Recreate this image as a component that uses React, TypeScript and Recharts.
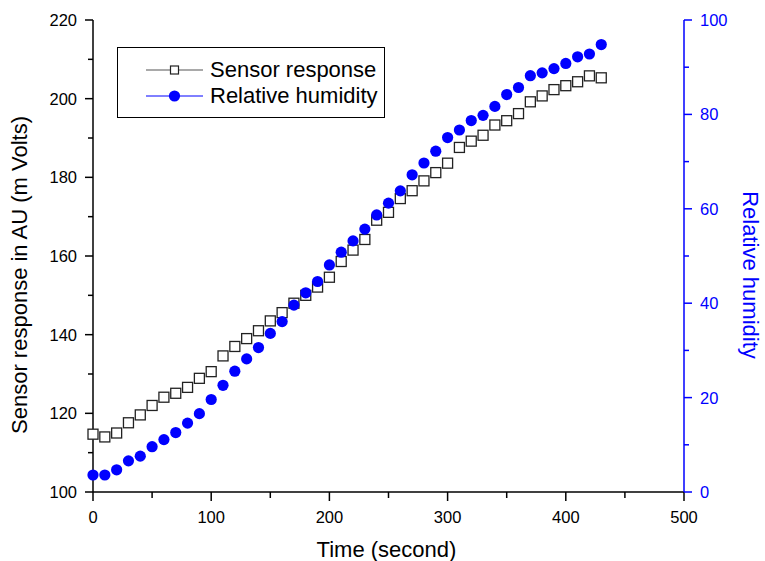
import React from 'react';
import { ComposedChart, Line, XAxis, YAxis, Legend, Label } from 'recharts';

// time in seconds
const TIME = [
  0, 10, 20, 30, 40, 50, 60, 70, 80, 90, 100, 110, 120, 130, 140, 150, 160, 170, 180, 190, 200, 210,
  220, 230, 240, 250, 260, 270, 280, 290, 300, 310, 320, 330, 340, 350, 360, 370, 380, 390, 400, 410,
  420, 430,
];

// sensor response (m Volts)
const SENSOR = [
  114.7, 114.0, 115.0, 117.6, 119.6, 122.0, 124.1, 125.1, 126.6, 128.9, 130.6, 134.6, 137.0, 139.0,
  141.0, 143.5, 145.6, 148.0, 150.0, 152.1, 154.6, 158.6, 161.5, 164.2, 169.1, 171.1, 174.6, 176.6,
  179.1, 181.2, 183.6, 187.6, 189.2, 190.7, 193.3, 194.4, 196.2, 199.2, 200.7, 202.3, 203.3, 204.3,
  205.8, 205.3,
];

// relative humidity (%)
const HUMIDITY = [
  3.6, 3.6, 4.7, 6.6, 7.6, 9.6, 11.1, 12.6, 14.6, 16.6, 19.6, 22.6, 25.6, 28.2, 30.6, 33.6, 36.1,
  39.6, 42.2, 44.6, 48.1, 50.8, 53.2, 55.7, 58.7, 61.2, 63.8, 67.2, 69.7, 72.2, 75.1, 76.7, 78.7, 79.8,
  81.7, 84.2, 85.7, 88.2, 88.8, 89.7, 90.8, 92.2, 92.8, 94.8,
];

const X_TICKS = [0, 50, 100, 150, 200, 250, 300, 350, 400, 450, 500];
const LEFT_TICKS = [100, 110, 120, 130, 140, 150, 160, 170, 180, 190, 200, 210, 220];
const RIGHT_TICKS = [0, 10, 20, 30, 40, 50, 60, 70, 80, 90, 100];

const SERIES = [
  { key: 'sensor', name: 'Sensor response' },
  { key: 'rh', name: 'Relative humidity' },
];

const data = TIME.map((t, i) => ({ t, sensor: SENSOR[i], rh: HUMIDITY[i] }));

const FONT = 'Arial, "Liberation Sans", sans-serif';
const BLUE = '#0000FF';
const TICK_FONT = 16.5;
const TITLE_FONT = 22;

const BottomTick = (props: any) => {
  const { x, y, payload } = props;
  const major = payload.value % 100 === 0;
  return (
    <g>
      <line x1={x} x2={x} y1={y} y2={y + (major ? 9 : 6)} stroke="#000" strokeWidth={1.5} />
      {major && (
        <text x={x} y={y + 31} textAnchor="middle" fontSize={TICK_FONT} fontFamily={FONT} fill="#000">
          {payload.value}
        </text>
      )}
    </g>
  );
};

const TopTick = (props: any) => {
  const { x, y, payload } = props;
  const major = payload.value % 100 === 0;
  return <line x1={x} x2={x} y1={y} y2={y + (major ? 8 : 5)} stroke="#000" strokeWidth={1.5} />;
};

const LeftTick = (props: any) => {
  const { x, y, payload } = props;
  const major = payload.value % 20 === 0;
  return (
    <g>
      <line x1={x - (major ? 8 : 5)} x2={x} y1={y} y2={y} stroke="#000" strokeWidth={1.5} />
      {major && (
        <text x={x - 16} y={y + 6} textAnchor="end" fontSize={TICK_FONT} fontFamily={FONT} fill="#000">
          {payload.value}
        </text>
      )}
    </g>
  );
};

const RightTick = (props: any) => {
  const { x, y, payload } = props;
  const major = payload.value % 20 === 0;
  return (
    <g>
      <line x1={x} x2={x + (major ? 8 : 5)} y1={y} y2={y} stroke={BLUE} strokeWidth={1.5} />
      {major && (
        <text x={x + 16} y={y + 6} textAnchor="start" fontSize={TICK_FONT} fontFamily={FONT} fill={BLUE}>
          {payload.value}
        </text>
      )}
    </g>
  );
};

const renderSquare = (p: any) => {
  if (p.cx == null || p.cy == null) return <g key={`s-${p.index}`} />;
  return (
    <rect
      key={`s-${p.index}`}
      x={p.cx - 5}
      y={p.cy - 5}
      width={10}
      height={10}
      fill="#fff"
      stroke="#222"
      strokeWidth={1.3}
    />
  );
};

const renderCircle = (p: any) => {
  if (p.cx == null || p.cy == null) return <g key={`c-${p.index}`} />;
  return <circle key={`c-${p.index}`} cx={p.cx} cy={p.cy} r={5.6} fill={BLUE} />;
};

const LegendIcon = ({ kind }: { kind: string }) => (
  <svg width={57} height={26} style={{ display: 'block' }}>
    {kind === 'sensor' ? (
      <>
        <line x1={0} x2={57} y1={13} y2={13} stroke="#555" strokeWidth={1.2} />
        <rect x={24.5} y={9} width={8} height={8} fill="#fff" stroke="#222" strokeWidth={1.2} />
      </>
    ) : (
      <>
        <line x1={0} x2={57} y1={13} y2={13} stroke={BLUE} strokeWidth={1} />
        <circle cx={28.5} cy={13} r={5.6} fill={BLUE} />
      </>
    )}
  </svg>
);

const renderLegend = () => (
  <div
    style={{
      position: 'relative',
      width: 268,
      height: 71,
      boxSizing: 'border-box',
      border: '1.5px solid #000',
      background: '#fff',
      fontFamily: FONT,
    }}
  >
    {SERIES.map((s, i) => (
      <div
        key={s.key}
        style={{
          position: 'absolute',
          left: 28,
          top: 9 + i * 26,
          height: 26,
          display: 'flex',
          alignItems: 'center',
          whiteSpace: 'nowrap',
        }}
      >
        <LegendIcon kind={s.key} />
        <span style={{ marginLeft: 7, fontSize: TITLE_FONT, color: '#000', lineHeight: '26px' }}>{s.name}</span>
      </div>
    ))}
  </div>
);

const AxisTitle = ({ viewBox, text, side }: any) => {
  const { x, y, width, height } = viewBox;
  if (side === 'left') {
    const cx = x + 19;
    const cy = y + height / 2 + 19;
    return (
      <text x={cx} y={cy} transform={`rotate(-90, ${cx}, ${cy})`} textAnchor="middle" dominantBaseline="central"
        fontSize={TITLE_FONT} fontFamily={FONT} fill="#000">
        {text}
      </text>
    );
  }
  if (side === 'right') {
    const cx = x + 66;
    const cy = y + height / 2 + 19;
    return (
      <text x={cx} y={cy} transform={`rotate(90, ${cx}, ${cy})`} textAnchor="middle" dominantBaseline="central"
        fontSize={TITLE_FONT} fontFamily={FONT} fill={BLUE}>
        {text}
      </text>
    );
  }
  return (
    <text x={x + width / 2 - 2} y={y + 57} textAnchor="middle" dominantBaseline="central"
      fontSize={TITLE_FONT} fontFamily={FONT} fill="#000">
      {text}
    </text>
  );
};

export default function App() {
  return (
    <div style={{ width: 765, height: 561, background: '#fff' }}>
      <style>{'body{margin:0;background:#fff}'}</style>
      <ComposedChart width={765} height={561} data={data} margin={{ top: 20, right: 0, bottom: 0, left: 0 }}>
        <XAxis
          xAxisId="bottom"
          dataKey="t"
          type="number"
          domain={[0, 500]}
          ticks={X_TICKS}
          interval={0}
          height={69}
          tickSize={0}
          tickMargin={0}
          tickLine={false}
          tick={BottomTick}
          axisLine={{ stroke: '#000', strokeWidth: 1.5 }}
        >
          <Label content={(p: any) => <AxisTitle {...p} text="Time (second)" side="bottom" />} />
        </XAxis>
        <XAxis
          xAxisId="top"
          orientation="top"
          dataKey="t"
          type="number"
          domain={[0, 500]}
          ticks={X_TICKS}
          interval={0}
          height={0}
          tickSize={0}
          tickMargin={0}
          tickLine={false}
          tick={TopTick}
          axisLine={{ stroke: '#000', strokeWidth: 1.5 }}
        />
        <YAxis
          yAxisId="left"
          type="number"
          domain={[100, 220]}
          ticks={LEFT_TICKS}
          interval={0}
          width={93}
          tickSize={0}
          tickMargin={0}
          tickLine={false}
          tick={LeftTick}
          axisLine={{ stroke: '#000', strokeWidth: 1.5 }}
        >
          <Label content={(p: any) => <AxisTitle {...p} text="Sensor response in AU (m Volts)" side="left" />} />
        </YAxis>
        <YAxis
          yAxisId="right"
          orientation="right"
          type="number"
          domain={[0, 100]}
          ticks={RIGHT_TICKS}
          interval={0}
          width={81}
          tickSize={0}
          tickMargin={0}
          tickLine={false}
          tick={RightTick}
          axisLine={{ stroke: BLUE, strokeWidth: 1.5 }}
        >
          <Label content={(p: any) => <AxisTitle {...p} text="Relative humidity" side="right" />} />
        </YAxis>
        <Legend
          layout="vertical"
          align="center"
          verticalAlign="middle"
          content={renderLegend}
          wrapperStyle={{ top: 47, left: 117, width: 268, height: 71 }}
        />
        <Line
          xAxisId="bottom"
          yAxisId="left"
          dataKey="sensor"
          name="Sensor response"
          stroke="none"
          dot={renderSquare}
          activeDot={false}
          isAnimationActive={false}
        />
        <Line
          xAxisId="bottom"
          yAxisId="right"
          dataKey="rh"
          name="Relative humidity"
          stroke="none"
          dot={renderCircle}
          activeDot={false}
          isAnimationActive={false}
        />
      </ComposedChart>
    </div>
  );
}
